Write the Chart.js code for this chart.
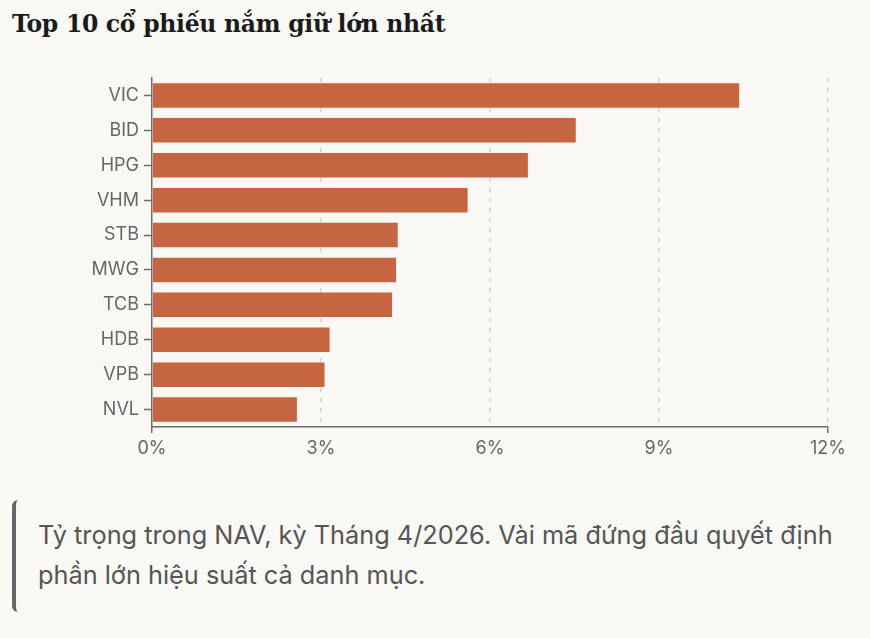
<!DOCTYPE html>
<html lang="vi">
<head>
<meta charset="utf-8">
<title>Top 10 cổ phiếu nắm giữ lớn nhất</title>
<script src="https://cdn.jsdelivr.net/npm/chart.js@4/dist/chart.umd.min.js"></script>
<style>
  html, body { margin: 0; padding: 0; background: #f9f8f4; }
  body { width: 870px; height: 638px; position: relative; overflow: hidden; }
  #tieude {
    position: absolute; left: 12px; top: 10px; margin: 0;
    font-family: "DejaVu Serif", serif; font-weight: bold; font-size: 23.5px;
    color: #1b1b1b; letter-spacing: -0.3px;
  }
  #khung { position: absolute; left: 0; top: 50px; width: 870px; height: 423px; }
  #ghichu {
    position: absolute; left: 12px; top: 500px; width: 830px; height: 112px;
    box-sizing: border-box; border-left: 4px solid #666; border-radius: 6px;
    padding: 15px 0 0 22px;
    font-family: Inter, sans-serif; font-size: 25.3px; line-height: 40px; color: #555;
  }
</style>
</head>
<body>
<h1 id="tieude">Top 10 cổ phiếu nắm giữ lớn nhất</h1>
<div id="khung"><canvas id="grafico"></canvas></div>
<div id="ghichu">Tỷ trọng trong NAV, kỳ Tháng 4/2026. Vài mã đứng đầu quyết định phần lớn hiệu suất cả danh mục.</div>

<script>
// Dữ liệu (tỷ trọng % trong NAV)
const maCoPhieu = ["VIC", "BID", "HPG", "VHM", "STB", "MWG", "TCB", "HDB", "VPB", "NVL"];
const tyTrong = [10.44, 7.54, 6.69, 5.62, 4.38, 4.35, 4.28, 3.17, 3.08, 2.59];
const mocTruc = [0, 3, 6, 9, 12]; // nhãn trục X (%)

const ctx = document.getElementById("grafico");
const mauTruc = "#6e6e6e";

// Chỉ vẽ vạch ở hai đầu trục X (giống trục kiểu D3)
function laDauMut(c) {
  return c.index === 0 || c.index === mocTruc.length - 1;
}

new Chart(ctx, {
  type: "bar",
  data: {
    labels: maCoPhieu,
    datasets: [{
      data: tyTrong,
      backgroundColor: "#c66542",
      borderColor: "rgba(255,235,225,0.45)",
      borderWidth: 1,
      barPercentage: 0.76,
      categoryPercentage: 1
    }]
  },
  options: {
    indexAxis: "y",
    responsive: true,
    maintainAspectRatio: false,
    animation: false,
    layout: { padding: { top: 28, right: 42, left: 0, bottom: 0 } },
    plugins: { legend: { display: false }, tooltip: { enabled: false } },
    scales: {
      x: {
        min: mocTruc[0],
        max: mocTruc[mocTruc.length - 1],
        afterBuildTicks: (s) => { s.ticks = mocTruc.map((v) => ({ value: v })); },
        afterFit: (s) => { s.height = 46; },
        // trong Chart.js v4, border.dash áp dụng cho đường lưới
        border: { display: true, color: mauTruc, width: 1.5, dash: [4, 6] },
        grid: {
          color: (c) => (c.index === 0 ? "rgba(0,0,0,0)" : "#d2d2d2"),
          lineWidth: 1.5,
          tickLength: 6,
          tickColor: (c) => (laDauMut(c) ? mauTruc : "rgba(0,0,0,0)"),
          tickWidth: 1.5,
          tickBorderDash: []
        },
        ticks: {
          padding: 5,
          color: "#666",
          font: { family: "Inter", size: 18 },
          callback: (v) => v + "%"
        }
      },
      y: {
        afterFit: (s) => { s.width = 152; },
        border: { display: true, color: mauTruc, width: 1.5 },
        grid: {
          drawOnChartArea: false,
          offset: false,
          tickLength: 8,
          tickColor: mauTruc,
          tickWidth: 1.5
        },
        ticks: {
          padding: 5,
          color: "#666",
          font: { family: "Inter", size: 18 }
        }
      }
    }
  }
});
</script>
</body>
</html>
